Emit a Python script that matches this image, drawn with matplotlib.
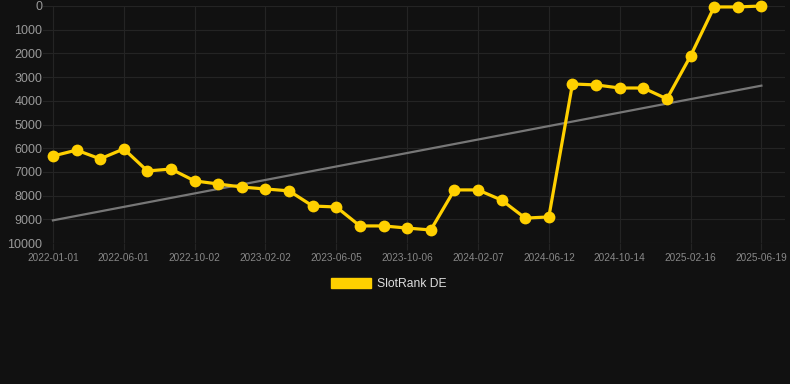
import numpy as np
import matplotlib.pyplot as plt

plt.rcParams["font.family"] = ["Liberation Sans", "DejaVu Sans"]

BG = "#111111"
GRID = "#242424"
YELLOW = "#FFD000"

# rank per sample (lower is better, axis inverted)
ranks = [6330, 6080, 6450, 6030, 6960, 6880, 7380, 7510, 7640, 7720,
         7800, 8440, 8480, 9280, 9280, 9370, 9450, 7760, 7760, 8190,
         8950, 8900, 3290, 3330, 3460, 3460, 3920, 2110, 40, 40, 0]

tick_labels = ["2022-01-01", "2022-06-01", "2022-10-02", "2023-02-02",
               "2023-06-05", "2023-10-06", "2024-02-07", "2024-06-12",
               "2024-10-14", "2025-02-16", "2025-06-19"]
y_ticks = list(range(0, 10001, 1000))

x = np.arange(len(ranks))
slope, intercept = np.polyfit(x, ranks, 1)
trend = slope * x + intercept

fig = plt.figure(figsize=(7.9, 3.84), dpi=100, facecolor=BG)
ax = fig.add_axes([43 / 790, 141 / 384, 742 / 790, 237 / 384])
ax.set_facecolor(BG)

ax.plot(x, trend, color="#777777", lw=1.6, zorder=2)
ax.plot(x, ranks, color=YELLOW, lw=2.3, marker="o", ms=8.5,
        markeredgewidth=0, zorder=3, clip_on=False, label="SlotRank DE")

ax.set_xlim(-0.42, 31.0)
ax.set_ylim(10000, 0)
ax.set_yticks(y_ticks)
ax.set_yticklabels([str(v) for v in y_ticks], color="#999999", fontsize=9)
ax.set_xticks(x[::3])
ax.set_xticklabels(tick_labels, color="#888888", fontsize=7.2)
ax.grid(True, color=GRID, lw=0.8)
ax.tick_params(axis="y", length=0, pad=0.5)
ax.tick_params(axis="x", length=5, color=GRID, width=0.8, pad=2)
for s in ax.spines.values():
    s.set_visible(False)
ax.axhline(10000, color="#2a2a2a", lw=0.8, zorder=1)

leg = fig.legend(handles=[plt.Rectangle((0, 0), 1, 1, color=YELLOW)],
                 labels=["SlotRank DE"], loc="center",
                 bbox_to_anchor=(389 / 790, 1 - 284 / 384), frameon=False,
                 handlelength=3.3, handleheight=0.9, handletextpad=0.5,
                 fontsize=8.7, labelcolor="#dddddd")

fig.savefig("out.png", dpi=100, facecolor=BG)
